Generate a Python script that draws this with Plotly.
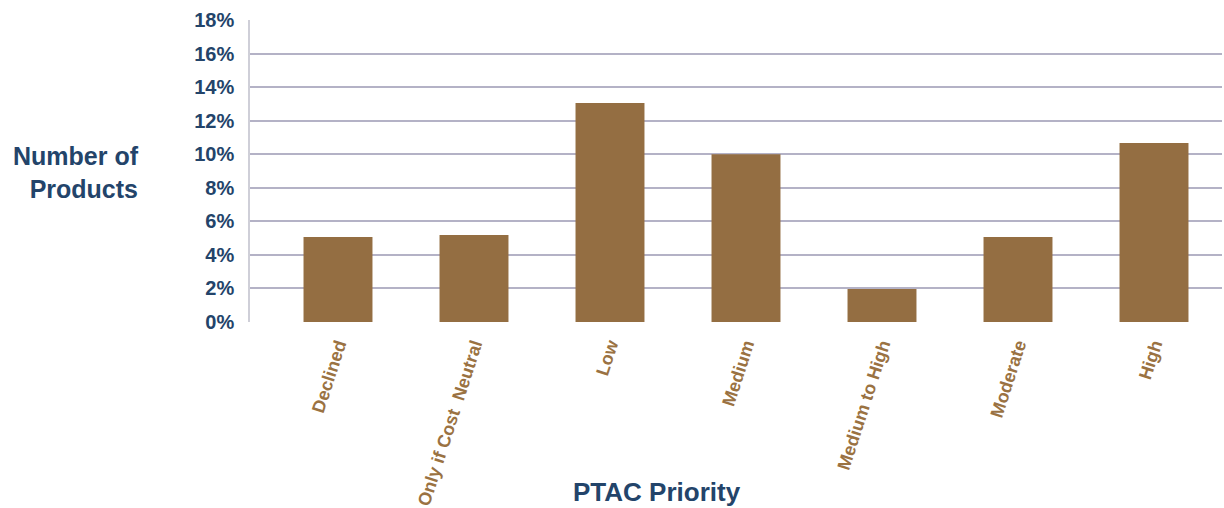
import plotly.graph_objects as go

categories = ["Declined", "Only if Cost  Neutral", "Low", "Medium", "Medium to High", "Moderate", "High"]
values = [5.07, 5.18, 13.05, 10.0, 1.97, 5.07, 10.67]
y_ticks = [0, 2, 4, 6, 8, 10, 12, 14, 16, 18]
y_tick_labels = [f"{v}%" for v in y_ticks]

BAR = "#946e42"
NAVY = "#23446a"
GRID = "#b4b2c6"
FONT = "Liberation Sans, Arial, sans-serif"

fig = go.Figure(go.Bar(
    x=list(range(len(categories))),
    y=values,
    marker=dict(color=BAR, line=dict(width=0)),
    width=0.507,
))

fig.update_layout(
    width=1224, height=508,
    margin=dict(l=250, r=2, t=20, b=186),
    plot_bgcolor="white", paper_bgcolor="white",
    showlegend=False,
    xaxis=dict(
        range=[-0.647, 6.5],
        tickmode="array",
        tickvals=list(range(len(categories))),
        ticktext=[f"<b>{c}</b>" for c in categories],
        tickangle=-72,
        tickfont=dict(family=FONT, size=18, color="#9a7242"),
        showgrid=False, zeroline=False, showline=False,
        ticks="", ticklen=0, ticklabelstandoff=8,
        automargin=False,
    ),
    yaxis=dict(
        range=[0, 18],
        tickmode="array",
        tickvals=y_ticks,
        ticktext=[f"<b>{t}</b>" for t in y_tick_labels],
        tickfont=dict(family=FONT, size=20, color=NAVY),
        showgrid=True, gridcolor=GRID, gridwidth=1.5,
        zeroline=False,
        showline=True, linecolor="#cfcfd8", linewidth=1.5,
        ticks="", ticklen=0, ticklabelstandoff=10,
        automargin=False,
    ),
    annotations=[
        dict(text="<b>Number of<br>  Products</b>", xref="paper", yref="paper",
             x=-0.112, y=0.495, xanchor="right", yanchor="middle", showarrow=False, align="right",
             font=dict(family=FONT, size=25, color=NAVY)),
        dict(text="<b>PTAC Priority</b>", xref="paper", yref="paper",
             x=0.419, y=-0.563, xanchor="center", yanchor="middle", showarrow=False,
             font=dict(family=FONT, size=26, color=NAVY)),
    ],
)

fig.write_html("out.html")
